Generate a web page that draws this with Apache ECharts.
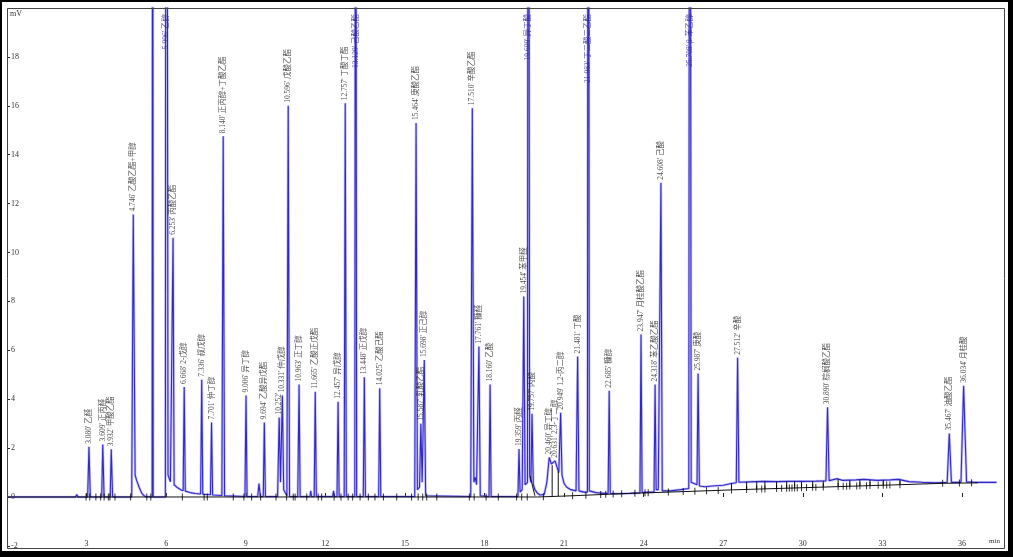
<!DOCTYPE html>
<html><head><meta charset="utf-8">
<script src="https://cdn.jsdelivr.net/npm/echarts@6/dist/echarts.min.js"></script>
<style>html,body{margin:0;padding:0;background:#fff}#c{width:1013px;height:557px}</style>
</head><body><div id="c"></div>
<script>
// axis ticks
const xTickValues = [3, 6, 9, 12, 15, 18, 21, 24, 27, 30, 33, 36];
const yTickValues = [-2, 0, 2, 4, 6, 8, 10, 12, 14, 16, 18];

// detector signal [min, mV]
const signal = [
  [0,0],[2.58,0],[2.63,0.1],[2.68,0],
  [3.04,0],[3.09,2.05],[3.14,0],
  [3.57,0],[3.61,2.15],[3.66,0],
  [3.89,0],[3.93,1.95],[3.98,0],
  [4.70,0],[4.76,11.55],[4.83,0.9],[4.88,0.7],[4.98,0.4],[5.08,0.15],[5.2,0.02],
  [5.47,0],[5.49,40],[5.51,0],
  [5.97,0],[6.0,60],[6.07,0.9],[6.16,0.62],[6.22,0.58],[6.26,10.6],[6.3,0.5],[6.4,0.4],[6.55,0.3],
  [6.64,0.26],[6.68,4.5],[6.72,0.24],[6.9,0.18],[7.1,0.14],[7.3,0.12],[7.34,4.8],[7.38,0.11],
  [7.55,0.1],[7.67,0.09],[7.71,3.05],[7.75,0.08],[8.1,0.06],[8.15,14.75],[8.2,0.05],[8.5,0.04],
  [8.97,0.02],[9.01,4.15],[9.05,0.02],[9.45,0.02],[9.5,0.55],[9.55,0.02],[9.66,0.02],[9.70,3.05],[9.74,0.02],
  [10.2,0.02],[10.26,3.25],[10.31,0.6],[10.38,4.15],[10.43,0.3],[10.55,0.05],[10.6,16.0],[10.65,0.02],
  [10.96,0.02],[11.01,4.6],[11.05,0.02],
  [11.42,0.02],[11.45,0.25],[11.48,0.02],
  [11.58,0.02],[11.62,4.3],[11.66,0.02],
  [12.27,0.02],[12.31,0.25],[12.34,0.02],
  [12.44,0.02],[12.48,3.9],[12.52,0.02],
  [12.71,0.02],[12.75,16.1],[12.79,0.02],
  [13.11,0.02],[13.14,40],[13.18,0.02],
  [13.43,0.02],[13.47,4.9],[13.51,0.02],
  [14.01,0.02],[14.05,4.45],[14.09,0.02],
  [15.37,0.02],[15.42,15.3],[15.47,0.3],[15.55,0.4],[15.6,3.0],[15.65,0.6],[15.73,5.6],[15.78,0.05],[15.85,0.02],
  [17.48,0.02],[17.54,15.9],[17.6,0.6],[17.65,0.8],[17.7,0.5],[17.79,6.15],[17.84,0.05],
  [18.17,0.02],[18.21,4.6],[18.25,0.02],
  [19.26,0.02],[19.30,1.96],[19.34,0.2],[19.42,0.3],[19.48,8.2],[19.53,0.5],[19.62,0.6],[19.65,50],[19.70,0.9],
  [19.75,0.6],[19.79,3.4],[19.84,0.5],[19.9,0.3],[20.0,0.15],[20.1,0.08],[20.25,0.1],
  [20.35,0.6],[20.44,1.62],[20.52,1.35],[20.58,1.3],[20.66,1.48],[20.74,1.2],[20.8,1.0],[20.87,3.45],[20.92,0.9],
  [21.0,0.55],[21.1,0.4],[21.25,0.3],[21.45,0.25],[21.51,5.75],[21.56,0.25],[21.75,0.2],[21.88,0.2],[21.91,50],[21.95,0.25],
  [22.2,0.18],[22.5,0.15],[22.66,0.15],[22.70,4.35],[22.74,0.15],[23.0,0.13],[23.5,0.15],
  [23.86,0.17],[23.9,6.65],[23.94,0.18],[24.3,0.2],[24.39,0.2],[24.43,4.6],[24.47,0.3],[24.55,0.3],[24.61,0.3],[24.65,12.85],[24.7,0.25],
  [25.0,0.25],[25.4,0.3],[25.7,0.35],[25.74,50],[25.79,0.6],[25.9,0.55],[26.01,0.5],[26.05,5.05],[26.1,0.45],
  [26.3,0.42],[26.6,0.45],[27.0,0.48],[27.3,0.55],[27.49,0.58],[27.54,5.7],[27.59,0.6],
  [28.0,0.62],[28.5,0.64],[29.0,0.63],[29.5,0.64],[30.0,0.64],[30.5,0.65],[30.87,0.66],[30.93,3.67],[30.99,0.67],
  [31.3,0.75],[31.5,0.68],[32.0,0.7],[32.3,0.72],[32.8,0.68],[33.3,0.7],[33.6,0.72],[34.0,0.63],[34.5,0.6],[35.0,0.58],
  [35.44,0.6],[35.52,2.6],[35.6,0.6],[35.96,0.6],[36.06,4.55],[36.17,0.62],[36.5,0.6],[37.3,0.6]
];

// integration baseline
const integrationBaseline = [[0,0],[20.0,0],[21.3,0.05],[23.5,0.15],[25.5,0.22],[27.3,0.29],[30,0.38],[33.3,0.49],[35.3,0.56],[36.6,0.58]];

// peak start/end marks on the baseline
const peakMarks = [
  [2.98,0],[3.12,0],[3.35,0],[3.53,0],[3.66,0],[3.82,0],[3.88,0],[4.07,0],[4.66,0],[5.27,0],[5.42,0],[6.61,0],
  [7.43,0],[7.55,0],[8.53,0],[8.93,0],[9.22,0],[9.56,0],[10.14,0],[10.54,0],[10.79,0],[10.86,0],[11.3,0],[11.73,0],
  [11.86,0],[12.33,0],[12.59,0],[12.86,0],[13.03,0],[13.31,0],[13.62,0],[13.87,0],[14.19,0],[14.69,0],[15.25,0],
  [15.5,0],[15.67,0],[15.82,0],[16.2,0],[17.43,0],[17.61,0],[18.06,0],[18.52,0],[19.21,0],[19.4,0],[19.61,0],
  [20.22,0.01],[21.32,0.05],[21.82,0.07],[22.38,0.1],[22.57,0.11],[22.85,0.12],[23.17,0.13],[23.67,0.15],[24.05,0.17],
  [24.17,0.17],[24.93,0.2],[25.49,0.22],[25.93,0.24],[26.37,0.26],[26.81,0.27],[27.31,0.29],[27.88,0.31],[28.26,0.32],
  [28.45,0.33],[28.57,0.33],[29.01,0.35],[29.2,0.36],[29.39,0.36],[29.49,0.37],[29.59,0.37],[29.69,0.37],[29.79,0.38],
  [29.95,0.38],[30.14,0.39],[30.37,0.4],[30.49,0.4],[30.77,0.41],[31.33,0.43],[31.52,0.44],[31.65,0.44],[31.77,0.45],
  [32.03,0.45],[32.15,0.46],[32.4,0.46],[32.53,0.47],[32.84,0.48],[33.03,0.48],[33.16,0.49],[33.28,0.49],[33.66,0.5],
  [35.27,0.56],[35.9,0.57],[36.36,0.58]
];

// drop / skim lines of the integration
const dropLines = [
  [19.72,0.85],[19.9,0.05],null,
  [20.55,0.02],[20.55,1.3],null,[20.78,0.03],[20.78,1.05],null,
  [27.31,0.29],[27.31,0.56],null,[27.88,0.31],[27.88,0.62],null,[28.26,0.32],[28.26,0.63],null,
  [28.57,0.33],[28.57,0.64],null,[29.01,0.35],[29.01,0.63],null,[29.39,0.36],[29.39,0.64],null,
  [29.69,0.37],[29.69,0.64],null,[29.95,0.38],[29.95,0.64],null,[30.37,0.4],[30.37,0.65],null,
  [30.77,0.41],[30.77,0.66],null,[31.33,0.43],[31.33,0.74],null,[31.77,0.45],[31.77,0.69],null,
  [32.15,0.46],[32.15,0.71],null,[32.53,0.47],[32.53,0.7],null,[33.03,0.48],[33.03,0.69],null,[33.66,0.5],[33.66,0.71]
];

// labelled peaks (apex inside the plot)
const peakTimes   = [3.09,3.61,3.93,4.76,6.26,6.68,7.34,7.71,8.15,9.01,9.70,10.26,10.38,10.6,11.01,11.62,12.48,12.75,13.47,14.05,15.42,15.60,15.73,17.54,17.79,18.21,19.30,19.48,19.79,20.44,20.66,20.87,21.51,22.70,23.9,24.43,24.65,26.05,27.54,30.93,35.52,36.06];
const peakHeights = [2.05,2.15,1.95,11.55,10.6,4.5,4.8,3.05,14.75,4.15,3.05,3.25,4.15,16.0,4.6,4.3,3.9,16.1,4.9,4.45,15.3,3.0,5.6,15.9,6.15,4.6,1.96,8.2,3.4,1.62,1.48,3.45,5.75,4.35,6.65,4.6,12.85,5.05,5.7,3.67,2.6,4.55];
const peakLabels  = ["3.080' 乙醛","3.609' 正丙醛","3.932' 甲酸乙酯","4.746' 乙酸乙酯+甲醇","6.253' 丙酸乙酯","6.668' 2-戊醇","7.336' 叔戊醇","7.701' 仲丁醇","8.140' 正丙醇+丁酸乙酯","9.006' 异丁醇","9.694' 乙酸异戊酯","10.252'","10.331' 仲戊醇","10.596' 戊酸乙酯","10.963' 正丁醇","11.665' 乙酸正戊酯","12.457' 异戊醇","12.757' 丁酸丁酯","13.448' 正戊醇","14.025' 乙酸己酯","15.464' 庚酸乙酯","15.587' 乳酸乙酯","15.698' 正己醇","17.510' 辛酸乙酯","17.761' 糠醛","18.160' 乙酸","19.359' 丙醛","19.454' 苯甲醛","19.757' 丙酸","20.460' 异丁醇","20.631' 2,3-丁二醇","20.949' 1,2-丙二醇","21.481' 丁酸","22.685' 糠醇","23.947' 月桂酸乙酯","24.318' 苯乙酸乙酯","24.608' 己酸","25.987' 庚酸","27.512' 辛酸","30.890' 棕榈酸乙酯","35.467' 油酸乙酯","36.034' 月桂酸"];

// off-scale peaks, labelled at the top of the frame
const offTimes  = [6.0,13.14,19.65,21.91,25.74];
const offLabels = ["5.996' 乙醇","13.129' 己酸乙酯","19.609' 异丁酸","21.983' 丁二酸二乙酯","25.708' β-苯乙醇"];

const TOP_LABEL_Y = 19.75;
const serif = "'Liberation Serif','DejaVu Serif',serif";
const labFont = "'Liberation Serif','Noto Sans CJK SC',serif";

const chart = echarts.init(document.getElementById('c'), null, {renderer: 'canvas'});
chart.setOption({
  animation: false,
  backgroundColor: '#fff',
  grid: {left: 7, right: 8, top: 8, bottom: 8, containLabel: false},
  xAxis: {
    type: 'value', min: 0, max: 37.62,
    axisLine: {show: false},
    splitLine: {show: false},
    axisTick: {show: true, inside: true, length: 4, customValues: xTickValues, lineStyle: {color: '#222'}},
    axisLabel: {show: true, inside: true, margin: 1, customValues: xTickValues, fontFamily: serif, fontSize: 8, color: '#333'}
  },
  yAxis: {
    type: 'value', min: -2.127, max: 20,
    axisLine: {show: false},
    splitLine: {show: false},
    axisTick: {show: true, inside: true, length: 3, customValues: yTickValues, lineStyle: {color: '#222'}},
    axisLabel: {show: true, inside: true, margin: 4, customValues: yTickValues, fontFamily: serif, fontSize: 8, color: '#333'}
  },
  graphic: [
    {type: 'rect', shape: {x: 7.5, y: 8.5, width: 997, height: 540}, style: {fill: 'none', stroke: '#444', lineWidth: 1}, z: 100, silent: true},
    {type: 'rect', shape: {x: 0, y: 0, width: 1013, height: 2}, style: {fill: '#000'}, z: 100, silent: true},
    {type: 'rect', shape: {x: 0, y: 0, width: 2, height: 557}, style: {fill: '#000'}, z: 100, silent: true},
    {type: 'rect', shape: {x: 1008, y: 0, width: 5, height: 557}, style: {fill: '#000'}, z: 100, silent: true},
    {type: 'rect', shape: {x: 0, y: 551, width: 1013, height: 6}, style: {fill: '#000'}, z: 100, silent: true},
    {type: 'text', left: 10, top: 10, style: {text: 'mV', font: "8px 'Liberation Serif'", fill: '#333'}, z: 100, silent: true},
    {type: 'text', left: 989, top: 538, style: {text: 'min', font: "7px 'Liberation Serif'", fill: '#333'}, z: 100, silent: true}
  ],
  series: [
    {type: 'line', data: signal, symbol: 'none', silent: true, z: 2,
     lineStyle: {width: 2.6, color: 'rgba(120,110,232,0.4)'}},
    {type: 'line', data: signal, symbol: 'none', silent: true, z: 3,
     lineStyle: {width: 1.1, color: '#3128ca'}},
    {type: 'line', data: integrationBaseline, symbol: 'none', silent: true, z: 4,
     lineStyle: {width: 1, color: '#111'}},
    {type: 'line', data: dropLines, symbol: 'none', silent: true, z: 4, connectNulls: false,
     lineStyle: {width: 1, color: '#111'}},
    {type: 'scatter', data: peakMarks, symbol: 'rect', symbolSize: [1, 7], silent: true, z: 5,
     itemStyle: {color: '#000'}},
    {type: 'scatter', silent: true, z: 6, symbolSize: 0,
     data: peakTimes.map((t, i) => ({value: [t, peakHeights[i]], name: peakLabels[i]})),
     label: {show: true, position: 'top', distance: 3, rotate: 90, align: 'left', verticalAlign: 'middle',
             formatter: p => p.name, fontFamily: labFont, fontSize: 7.5, color: '#222'}},
    {type: 'scatter', silent: true, z: 6, symbolSize: 0,
     data: offTimes.map((t, i) => ({value: [t, TOP_LABEL_Y], name: offLabels[i]})),
     label: {show: true, position: 'inside', rotate: 90, align: 'right', verticalAlign: 'middle',
             formatter: p => p.name, fontFamily: labFont, fontSize: 7.5, color: '#2a2296'}}
  ]
});
</script>
</body></html>
